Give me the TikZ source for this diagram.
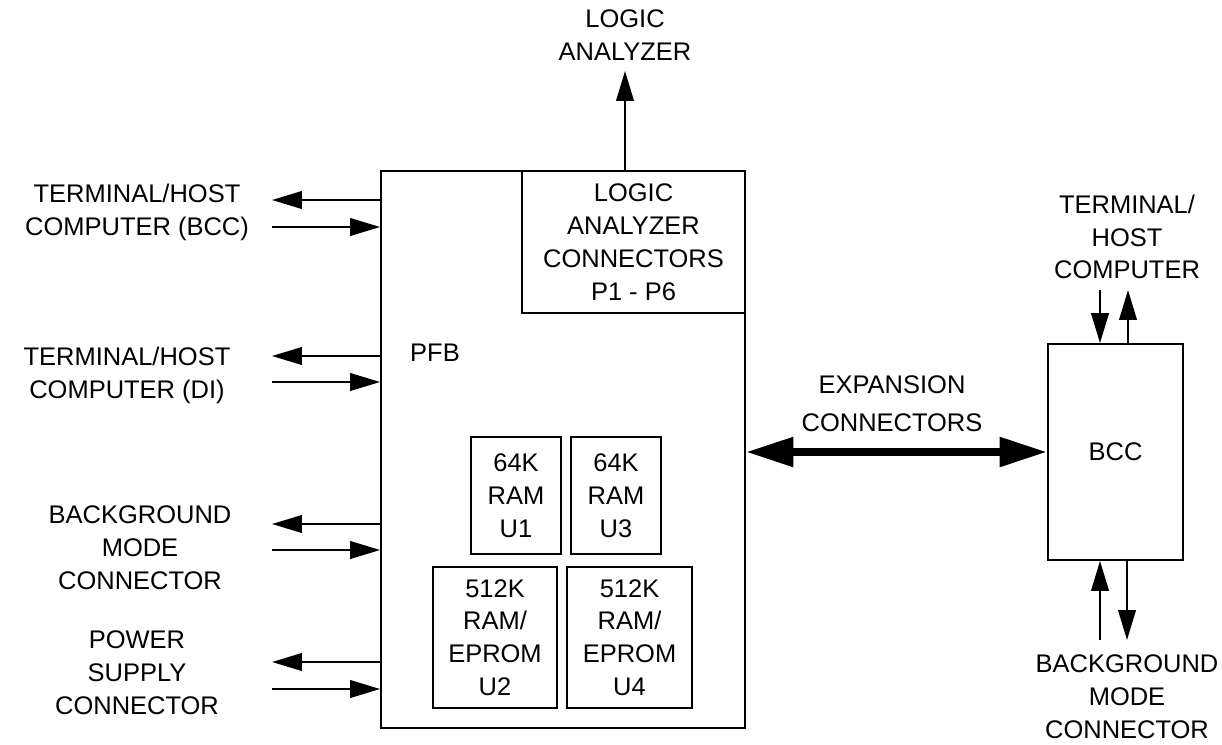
\documentclass[tikz,border=0pt]{standalone}
\usepackage{fontspec}
\setmainfont{Liberation Sans}
\usetikzlibrary{arrows.meta}

\begin{document}
\begin{tikzpicture}[x=0.02cm,y=-0.02cm]
        \tikzstyle{every node} = [align=center, inner sep=0pt, font=\fontsize{14.5}{18.7}\selectfont]
        \tikzstyle{blk} = [draw, rectangle, line width=1.1pt]
        \tikzstyle{sig} = [line width=1.1pt, -{Triangle[length=17pt,width=10pt]}]
        \tikzstyle{bus} = [line width=4.5pt, {Triangle[length=27pt,width=16pt]}-{Triangle[length=27pt,width=16pt]}]
        \useasboundingbox (0,0) rectangle (1222,744);

        % boards
        \node[blk, minimum width=7.28cm, minimum height=11.14cm] (pfb) at (563,449.5) {};
        \node (pfbtxt) at (435,353) {PFB};
        \node[blk, minimum width=4.46cm, minimum height=2.84cm] (lac) at (633.5,242) {LOGIC\\ANALYZER\\CONNECTORS\\P1 - P6};
        \node[blk, minimum width=1.8cm, minimum height=2.34cm] (u1) at (516,495.5) {64K\\RAM\\U1};
        \node[blk, minimum width=1.8cm, minimum height=2.34cm] (u3) at (616,495.5) {64K\\RAM\\U3};
        \node[blk, minimum width=2.48cm, minimum height=2.82cm] (u2) at (495,637.5) {512K\\RAM/\\EPROM\\U2};
        \node[blk, minimum width=2.5cm, minimum height=2.82cm] (u4) at (629.5,637.5) {512K\\RAM/\\EPROM\\U4};
        \node[blk, minimum width=2.7cm, minimum height=4.32cm] (bcc) at (1115.5,452) {BCC};

        % left side
        \node (h1) at (137,212) {TERMINAL/HOST\\COMPUTER (BCC)};
        \node (h2) at (127,375) {TERMINAL/HOST\\COMPUTER (DI)};
        \node (bg) at (140,548) {BACKGROUND\\MODE\\CONNECTOR};
        \node (ps) at (137,673) {POWER\\SUPPLY\\CONNECTOR};
        \foreach \n/\ya/\yb in {1/200/227, 2/356/382, 3/524/550, 4/662/689} {
            \coordinate (o\n) at (272,\ya);
            \coordinate (i\n) at (272,\yb);
            \draw[sig] (pfb.west |- o\n) -- (o\n);
            \draw[sig] (i\n) -- (i\n -| pfb.west);
        }

        % top
        \node (la) at (625,35) {LOGIC\\ANALYZER};
        \coordinate (latip) at (625,71);
        \draw[sig] (lac.north -| latip) -- (latip);

        % expansion bus
        \node (exp) at (892,404) {EXPANSION\\[3pt]CONNECTORS};
        \draw[bus] (pfb.east |- bcc.west) -- (bcc.west);

        % bcc side
        \node (th) at (1127,237) {TERMINAL/\\HOST\\COMPUTER};
        \node (bm) at (1127,697) {BACKGROUND\\MODE\\CONNECTOR};
        \coordinate (bt1) at (1100,290);
        \coordinate (bt2) at (1128,290);
        \coordinate (bb1) at (1100,640);
        \coordinate (bb2) at (1127,640);
        \draw[sig] (bt1) -- (bt1 |- bcc.north);
        \draw[sig] (bt2 |- bcc.north) -- (bt2);
        \draw[sig] (bb1) -- (bb1 |- bcc.south);
        \draw[sig] (bb2 |- bcc.south) -- (bb2);
\end{tikzpicture}
\end{document}
